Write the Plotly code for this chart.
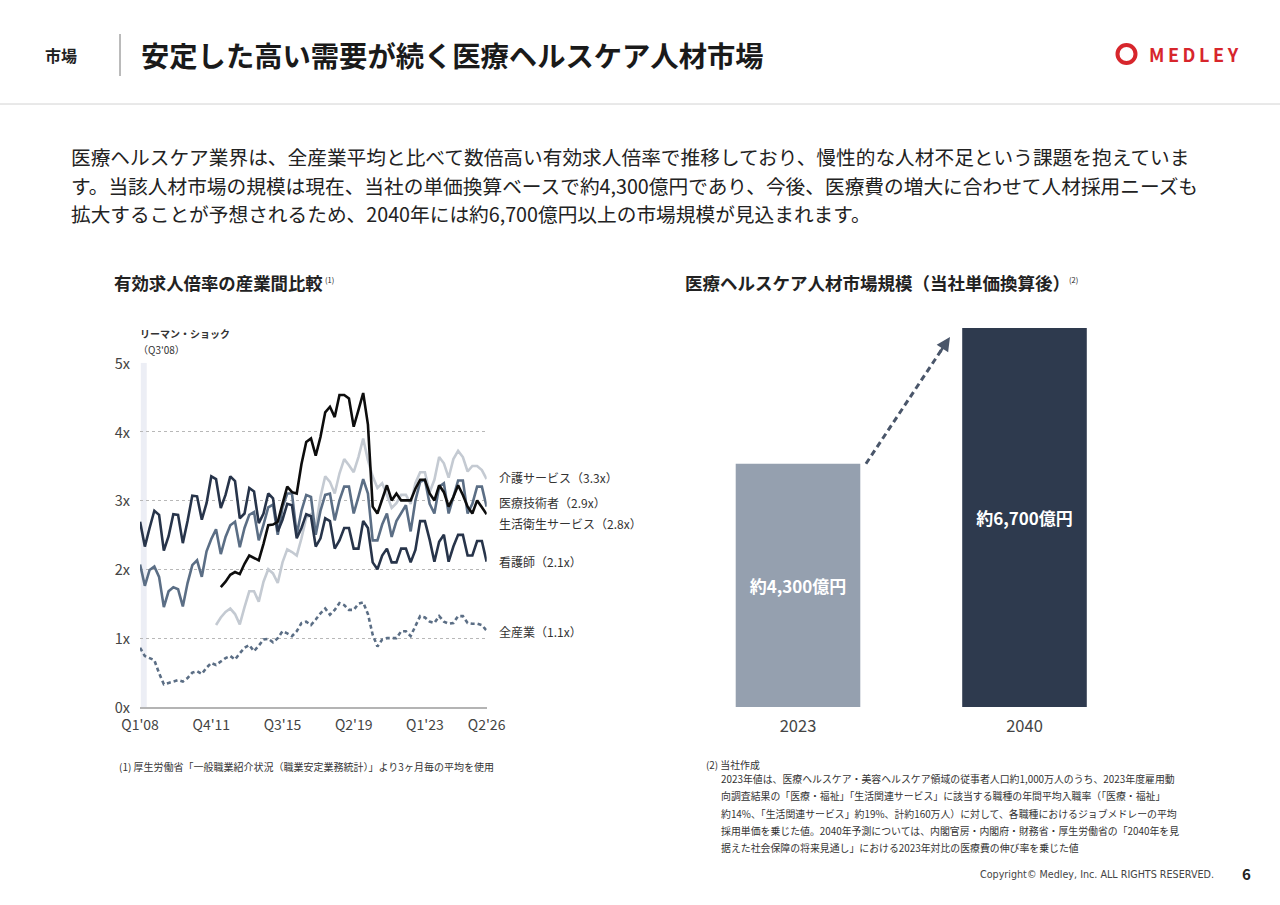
import plotly.graph_objects as go

FONT = "Noto Sans CJK JP"
W, H = 1280, 905

# ---- left chart: job openings-to-applicants ratio, quarterly Q1'08 .. Q2'26
quarters = [f"Q{q}'{y:02d}" for y in range(8, 27) for q in range(1, 5)][:74]
tick_quarters = ["Q1'08", "Q4'11", "Q3'15", "Q2'19", "Q1'23", "Q2'26"]

kangoshi = [2.69, 2.33, 2.60, 2.85, 2.79, 2.27, 2.48, 2.80, 2.79, 2.38, 2.70, 3.07,
            3.06, 2.72, 2.96, 3.35, 3.31, 2.89, 3.08, 3.35, 3.28, 2.74, 2.81, 3.18,
            3.13, 2.67, 2.81, 3.10, 3.03, 2.55, 2.72, 2.95, 2.93, 2.45, 2.60, 2.80,
            2.77, 2.33, 2.45, 2.74, 2.70, 2.30, 2.42, 2.60, 2.60, 2.30, 2.30, 2.70,
            2.60, 2.10, 2.00, 2.20, 2.30, 2.10, 2.10, 2.30, 2.30, 2.10, 2.28, 2.70,
            2.70, 2.43, 2.11, 2.40, 2.50, 2.11, 2.33, 2.50, 2.50, 2.20, 2.20, 2.41,
            2.41, 2.11]

iryo_gijutsu = [2.07, 1.76, 1.99, 2.04, 1.89, 1.45, 1.68, 1.74, 1.71, 1.46, 1.80, 2.06,
                2.13, 1.89, 2.26, 2.44, 2.58, 2.22, 2.47, 2.64, 2.69, 2.32, 2.60, 2.79,
                2.83, 2.42, 2.65, 2.90, 2.94, 2.50, 2.90, 3.10, 3.10, 2.50, 2.85, 3.08,
                3.05, 2.50, 2.85, 3.08, 3.10, 2.71, 3.00, 3.20, 3.20, 2.81, 3.05, 3.31,
                3.10, 2.42, 2.42, 2.65, 2.81, 2.47, 2.70, 2.81, 2.93, 2.55, 3.00, 3.27,
                3.30, 2.95, 2.81, 3.20, 3.25, 2.81, 3.05, 3.29, 3.29, 2.81, 2.95, 3.20,
                3.20, 2.91]

kaigo = [None] * 16 + [
    1.19, 1.30, 1.38, 1.43, 1.35, 1.20, 1.45, 1.68,
    1.68, 1.53, 1.82, 2.00, 1.94, 1.80, 2.10, 2.29, 2.25, 2.20, 2.45, 2.75,
    2.80, 2.60, 3.05, 3.35, 3.27, 3.10, 3.39, 3.60, 3.51, 3.41, 3.63, 3.90,
    3.58, 3.35, 3.18, 3.25, 3.08, 2.89, 2.96, 3.08, 3.08, 2.95, 3.25, 3.41,
    3.41, 3.12, 3.30, 3.63, 3.54, 3.33, 3.60, 3.72, 3.63, 3.42, 3.50, 3.50,
    3.44, 3.31]

seikatsu_eisei = [None] * 17 + [
    1.74, 1.82, 1.92, 1.96, 1.93, 2.08, 2.20,
    2.16, 2.13, 2.37, 2.64, 2.65, 2.69, 2.95, 3.20, 3.12, 3.10, 3.53, 3.85,
    3.90, 3.65, 3.92, 4.28, 4.36, 4.21, 4.53, 4.53, 4.48, 4.07, 4.31, 4.56,
    4.10, 2.91, 2.81, 3.00, 3.22, 3.00, 3.10, 3.00, 3.00, 3.00, 3.17, 3.30,
    3.30, 3.10, 3.00, 3.22, 3.12, 2.91, 3.05, 3.22, 3.08, 2.91, 2.81, 3.00,
    2.90, 2.80]

zen_sangyo = [0.86, 0.74, 0.71, 0.68, 0.49, 0.33, 0.35, 0.37, 0.39, 0.37, 0.42, 0.50,
              0.52, 0.48, 0.57, 0.64, 0.61, 0.66, 0.71, 0.74, 0.69, 0.78, 0.86, 0.90,
              0.81, 0.89, 0.98, 0.99, 0.94, 1.00, 1.10, 1.07, 1.03, 1.10, 1.22, 1.24,
              1.19, 1.27, 1.36, 1.43, 1.34, 1.41, 1.51, 1.48, 1.41, 1.41, 1.50, 1.52,
              1.35, 1.05, 0.88, 0.98, 1.00, 1.00, 1.00, 1.10, 1.10, 1.03, 1.17, 1.32,
              1.30, 1.24, 1.22, 1.32, 1.24, 1.21, 1.22, 1.32, 1.32, 1.22, 1.21, 1.21,
              1.19, 1.11]

# end-of-line labels (text, y value where the label sits)
end_labels = ["介護サービス（3.3x）", "医療技術者（2.9x）", "生活衛生サービス（2.8x）",
              "看護師（2.1x）", "全産業（1.1x）"]
end_label_y = [3.33, 2.97, 2.67, 2.12, 1.10]

# ---- right chart: market size
years = ["2023", "2040"]
market_size = [4300, 6700]
market_labels = ["約4,300億円", "約6,700億円"]

body_lines = [
    "医療ヘルスケア業界は、全産業平均と比べて数倍高い有効求人倍率で推移しており、慢性的な人材不足という課題を抱えていま",
    "す。当該人材市場の規模は現在、当社の単価換算ベースで約4,300億円であり、今後、医療費の増大に合わせて人材採用ニーズも",
    "拡大することが予想されるため、2040年には約6,700億円以上の市場規模が見込まれます。",
]
note2_lines = [
    "2023年値は、医療ヘルスケア・美容ヘルスケア領域の従事者人口約1,000万人のうち、2023年度雇用動",
    "向調査結果の「医療・福祉」「生活関連サービス」に該当する職種の年間平均入職率（「医療・福祉」",
    "約14%、「生活関連サービス」約19%、計約160万人）に対して、各職種におけるジョブメドレーの平均",
    "採用単価を乗じた値。2040年予測については、内閣官房・内閣府・財務省・厚生労働省の「2040年を見",
    "据えた社会保障の将来見通し」における2023年対比の医療費の伸び率を乗じた値",
]


def px(x):
    return x / W


def py(y):
    return 1 - y / H


def text(fig, s, x, y, size, color="#222", bold=False, xanchor="left", family=FONT):
    fig.add_annotation(text=s, x=px(x), y=py(y), xref="paper", yref="paper",
                       xanchor=xanchor, yanchor="middle", showarrow=False,
                       font=dict(family=family, size=size, color=color,
                                 weight="bold" if bold else "normal"))


fig = go.Figure()

series = [
    (kaigo, "#c4cad2", None),
    (iryo_gijutsu, "#5b6e85", None),
    (kangoshi, "#27344a", None),
    (seikatsu_eisei, "#0d0d0d", None),
    (zen_sangyo, "#5b6e85", "4px,3px"),
]
for vals, color, dash in series:
    fig.add_trace(go.Scatter(
        x=quarters, y=vals, mode="lines", xaxis="x", yaxis="y",
        line=dict(color=color, width=2.6, dash=dash),
        hoverinfo="skip", connectgaps=False,
    ))

fig.add_trace(go.Bar(
    x=years, y=market_size, xaxis="x2", yaxis="y2", width=0.55,
    marker=dict(color=["#95a0af", "#2e3a4e"], line=dict(width=0)),
    text=market_labels, textposition="inside", insidetextanchor="middle", textangle=0,
    textfont=dict(family=FONT, size=17, color="white", weight="bold"),
    hoverinfo="skip",
))

fig.update_layout(
    width=W, height=H, margin=dict(l=0, r=0, t=0, b=0, pad=0, autoexpand=False),
    paper_bgcolor="white", plot_bgcolor="white", showlegend=False,
    font=dict(family=FONT, color="#333"),
    xaxis=dict(domain=[px(140), px(486.7)], anchor="y", type="category",
               categoryorder="array", categoryarray=quarters, automargin=False,
               range=[-0.02, 73.02], tickvals=tick_quarters, ticktext=tick_quarters,
               showgrid=False, showline=True, linecolor="#b4b4b4", linewidth=2,
               ticks="", ticklabelstandoff=4, tickfont=dict(size=14, color="#444")),
    yaxis=dict(domain=[py(707), py(362.7)], anchor="x", range=[0, 5], automargin=False,
               tickvals=[0, 1, 2, 3, 4, 5], ticktext=["0x", "1x", "2x", "3x", "4x", "5x"],
               showgrid=True, gridcolor="#b8b8b8", griddash="dot", gridwidth=1,
               zeroline=False, ticks="", ticklabelstandoff=9, ticklabelshift=1,
               tickfont=dict(size=14.5, color="#444")),
    xaxis2=dict(domain=[px(684.75), px(1137.75)], anchor="y2", type="category",
                range=[-0.5, 1.5], showgrid=False, showline=False, ticks="",
                automargin=False, ticklabelstandoff=7, tickfont=dict(size=16.5, color="#444")),
    yaxis2=dict(domain=[py(707), py(328)], anchor="x2", range=[0, 6700],
                visible=False, automargin=False),
)

# Lehman shock band
fig.add_shape(type="rect", xref="x", yref="y", x0=0.15, x1=1.4, y0=0, y1=5,
              fillcolor="#eceef5", line=dict(width=0), layer="below")
text(fig, "リーマン・ショック", 138, 333, 10, color="#333", bold=True)
text(fig, "（Q3'08）", 136, 349, 10, color="#333")

for s, yv in zip(end_labels, end_label_y):
    fig.add_annotation(text=s, x=px(497), y=yv, xref="paper", yref="y",
                       xanchor="left", yanchor="middle", showarrow=False,
                       font=dict(family=FONT, size=12, color="#333"))

# dashed growth arrow between the bars
arrow_color = "#4a566a"
fig.add_shape(type="line", xref="x2", yref="y2", x0=0.30, y0=4300, x1=0.645, y1=6383,
              line=dict(color=arrow_color, width=3, dash="6px,4px"))
fig.add_annotation(x=0.671, y=6540, ax=0.623, ay=6249, xref="x2", yref="y2",
                   axref="x2", ayref="y2", text="", showarrow=True, arrowhead=2,
                   arrowsize=1.1, arrowwidth=2.5, arrowcolor=arrow_color)

# header
text(fig, "市場", 43, 55, 16, bold=True)
fig.add_shape(type="line", xref="paper", yref="paper", x0=px(120), x1=px(120),
              y0=py(34), y1=py(76), line=dict(color="#777", width=1))
text(fig, "安定した高い需要が続く医療ヘルスケア人材市場", 139, 55, 28.3, color="#1a1a1a", bold=True)
fig.add_shape(type="line", xref="paper", yref="paper", x0=0, x1=1,
              y0=py(104), y1=py(104), line=dict(color="#d2d2d2", width=1))

# logo
red = "#d7262c"
fig.add_shape(type="circle", xref="paper", yref="paper", x0=px(1117.5), x1=px(1135.5),
              y0=py(63), y1=py(45), line=dict(color=red, width=4))
text(fig, "M\u2009E\u2009D\u2009L\u2009E\u2009Y", 1147, 54, 18, color=red, bold=True)

# body text
for i, line in enumerate(body_lines):
    text(fig, line, 69, 157 + 28 * i, 19.7, color="#222")

# chart titles
text(fig, "有効求人倍率の産業間比較", 112, 283, 17.4, color="#222", bold=True)
text(fig, "(1)", 323, 279, 7.5, color="#222")
text(fig, "医療ヘルスケア人材市場規模（当社単価換算後）", 683, 283, 17.5, color="#222", bold=True)
text(fig, "(2)", 1067, 279, 7.5, color="#222")

# footnotes
text(fig, "(1) 厚生労働省「一般職業紹介状況（職業安定業務統計）」より3ヶ月毎の平均を使用",
     117, 766, 10, color="#333")
text(fig, "(2) 当社作成", 704, 765, 9.9, color="#333")
for i, line in enumerate(note2_lines):
    text(fig, line, 719, 779 + 17.3 * i, 9.9, color="#333")

text(fig, "Copyright© Medley, Inc. ALL RIGHTS RESERVED.", 1216, 874, 9.6,
     color="#444", xanchor="right", family="DejaVu Sans")
text(fig, "6", 1253, 873, 15, color="#222", bold=True, xanchor="right")

fig.write_html("out.html", config={"displayModeBar": False},
               post_script="document.body.style.margin='0';")
